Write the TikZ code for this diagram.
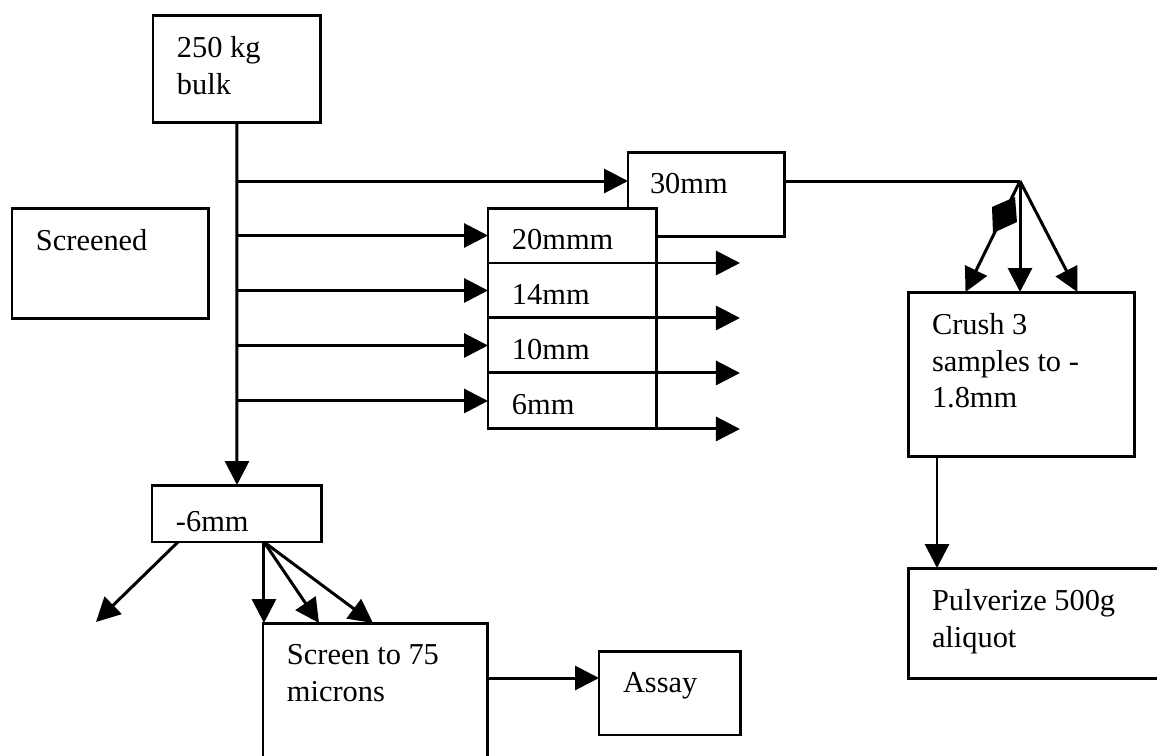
\documentclass[tikz,border=0pt]{standalone}
\usepackage{fontspec}
\setmainfont{Liberation Serif}
\usetikzlibrary{arrows.meta, positioning}

\begin{document}
\begin{tikzpicture}[x=0.02cm, y=-0.02cm, line width=1.7pt,
  >={Triangle[length=0.48cm, width=0.48cm]},
  box/.style={rectangle, draw, fill=white, anchor=north west, inner sep=0pt, outer sep=0pt},
  txt/.style={anchor=north west, align=left, inner xsep=0.48cm, inner ysep=0.43cm, outer sep=0pt,
    font=\fontsize{17.3}{20.8}\selectfont}]
  \useasboundingbox (0,0) rectangle (1157,755);
  \clip (0,0) rectangle (1157,755);

  % boxes
  \node[box, minimum width=3.36cm, minimum height=2.16cm, label={[txt]north west:250 kg\\bulk}] (bulk) at (153,15) {};
  \node[box, minimum width=3.94cm, minimum height=2.22cm, label={[txt]north west:Screened}] (scr) at (12,208) {};
  \node[box, minimum width=3.14cm, minimum height=1.7cm, label={[txt, inner xsep=0.44cm]north west:30mm}] (thirty) at (628,152) {};
  \node[box, minimum width=3.38cm, minimum height=1.1cm, label={[txt]north west:20mmm}] (r20) at (488,208) {};
  \node[box, minimum width=3.38cm, minimum height=1.1cm, below=0pt of r20, label={[txt]north west:14mm}] (r14) {};
  \node[box, minimum width=3.38cm, minimum height=1.1cm, below=0pt of r14, label={[txt]north west:10mm}] (r10) {};
  \node[box, minimum width=3.38cm, minimum height=1.12cm, below=0pt of r10, label={[txt]north west:6mm}] (r6) {};
  \node[box, minimum width=4.54cm, minimum height=3.3cm, label={[txt]north west:Crush 3\\samples to -\\1.8mm}] (crush) at (908,292) {};
  \node[box, minimum width=5.4cm, minimum height=2.22cm, label={[txt]north west:Pulverize 500g\\aliquot}] (pulv) at (908,568) {};
  \node[box, minimum width=3.4cm, minimum height=1.14cm, label={[txt, inner ysep=0.53cm]north west:-6mm}] (minus6) at (152,485) {};
  \node[box, minimum width=4.5cm, minimum height=3.4cm, label={[txt]north west:Screen to 75\\microns}] (screen) at (263,623) {};
  \node[box, minimum width=2.84cm, minimum height=1.68cm, label={[txt]north west:Assay}] (assay) at (599,651) {};

  % screening
  \draw[->] (bulk) -- (minus6);
  \coordinate (j30) at (237,181);
  \draw[->] (j30) -- (j30 -| thirty.west);
  \foreach \r in {r20,r14,r10,r6}
    \draw[->] (bulk.south |- \r.west) -- (\r.west);
  \foreach \r in {r20,r14,r10,r6}
    \draw[->] (\r.south east) -- ++(83,0);

  % +30mm fraction
  \coordinate (apex) at (1020,181);
  \draw (apex -| thirty.east) -- (apex);
  \draw[->] (apex) -- ([xshift=-1.12cm]crush.north);
  \draw[->] (apex) -- (apex |- crush.north);
  \draw[->] (apex) -- ([xshift=1.12cm]crush.north);
  \fill (992,207) -- (1015,197) -- (1017,222) -- (993,233) -- cycle;
  \draw[->] ([xshift=0.58cm]crush.south west) -- ([xshift=0.58cm]pulv.north west);

  % -6mm fraction
  \draw[->] ([xshift=0.52cm]minus6.south west) -- ++(-82,80);
  \coordinate (m6) at ([xshift=-1.16cm]minus6.south east);
  \draw[->] (m6) -- (m6 |- screen.north);
  \draw[->] (m6) -- ([xshift=1.12cm]screen.north west);
  \draw[->] (m6) -- ([xshift=2.2cm]screen.north west);
  \coordinate (sa) at ([yshift=0.3cm]assay.west);
  \draw[->] (sa -| screen.east) -- (sa);
\end{tikzpicture}
\end{document}
